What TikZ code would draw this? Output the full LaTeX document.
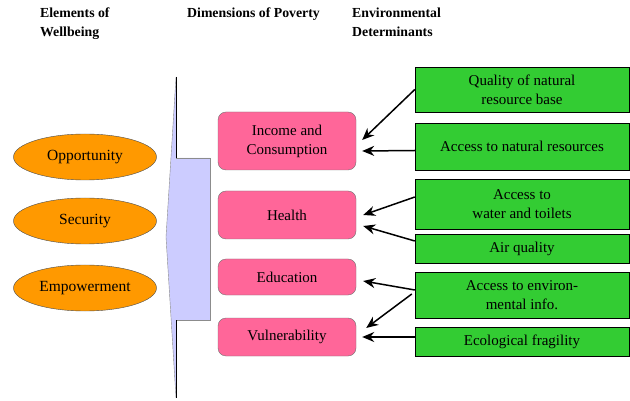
\documentclass[tikz,border=0pt]{standalone}
\usepackage{fontspec}
\setmainfont{Liberation Serif}
\usetikzlibrary{calc}
\usetikzlibrary{arrows.meta}
\usetikzlibrary{shapes.geometric}
\definecolor{wellorange}{HTML}{FF9900}
\definecolor{povpink}{HTML}{FF6699}
\definecolor{envgreen}{HTML}{33CC33}
\definecolor{lavender}{HTML}{CCCCFF}

\tikzset{
  header/.style={anchor=north west, align=left, font=\fontsize{13.8}{19}\selectfont\bfseries, inner sep=0pt},
  element/.style={ellipse, draw=black!70, fill=wellorange, minimum width=143pt, minimum height=46pt, inner sep=0pt, font=\fontsize{15.5}{19}\selectfont},
  dimension/.style={rectangle, rounded corners=8pt, draw=black!55, fill=povpink, minimum width=138pt, inner sep=0pt, align=center, font=\fontsize{15}{19}\selectfont},
  determinant/.style={rectangle, draw=black, fill=envgreen, minimum width=214pt, inner sep=0pt, align=center, font=\fontsize{15}{19}\selectfont},
  link/.style={-{Stealth[length=12pt,width=10pt]}, line width=1.5pt}
}

\begin{document}
\begin{tikzpicture}[x=1pt,y=-1pt]
\useasboundingbox (0,0) rectangle (630,401);

% column headers
\node[header] (hwell) at (40,8) {Elements of\\Wellbeing};
\node[header] (hpov) at (187,8) {Dimensions of Poverty};
\node[header] (henv) at (352,8) {Environmental\\Determinants};

% big bracket arrow
\coordinate (btop) at (176,77);
\coordinate (bbot) at (176,398);
\coordinate (btip) at (166,237);
\fill[lavender] (btop) -- (176,158) -- (210,158) -- (210,320) -- (176,320) -- (bbot) -- (btip) -- cycle;
\draw[black!45] (176,158) -- (210,158) -- (210,320) -- (176,320);
\draw[black!45] (btop) -- (btip) -- (bbot);
\draw[black] (btop) -- (176,158);
\draw[black] (176,320) -- (bbot);

% elements of wellbeing
\node[element] (opp) at (85,157) {Opportunity};
\node[element] (sec) at (85,221) {Security};
\node[element] (emp) at (85,288) {Empowerment};

% dimensions of poverty
\node[dimension, minimum height=58pt] (inc) at (287,141) {Income and\\Consumption};
\node[dimension, minimum height=48pt] (hea) at (287,215) {Health};
\node[dimension, minimum height=36pt] (edu) at (287,277) {Education};
\node[dimension, minimum height=38pt] (vul) at (287,337) {Vulnerability};

% environmental determinants
\node[determinant, minimum height=45pt] (qual) at (522,89.5) {Quality of natural\\resource base};
\node[determinant, minimum height=47pt] (acc) at (522,146.5) {Access to natural resources};
\node[determinant, minimum height=50pt] (wat) at (522,204) {Access to\\water and toilets};
\node[determinant, minimum height=29pt] (air) at (522,248.5) {Air quality};
\node[determinant, minimum height=46pt] (info) at (522,295) {Access to environ-\\mental info.};
\node[determinant, minimum height=29pt] (eco) at (522,341.5) {Ecological fragility};

% links
\draw[link] (qual.west) -- ($(inc.east)+(6,-1)$);
\draw[link] ($(acc.west)+(0,4)$) -- ($(inc.east)+(6,10)$);
\draw[link] ($(wat.west)+(0,-7)$) -- ($(hea.east)+(7,0)$);
\draw[link] ($(air.west)+(0,-7.5)$) -- ($(hea.east)+(7,11)$);
\draw[link] ($(info.west)+(0,-5)$) -- ($(edu.east)+(7,4)$);
\draw[link] ($(info.west)+(-3,-1)$) -- ($(vul.east)+(10,-9)$);
\draw[link] ($(eco.west)+(0,-4.5)$) -- ($(vul.east)+(6,0)$);
\end{tikzpicture}
\end{document}
